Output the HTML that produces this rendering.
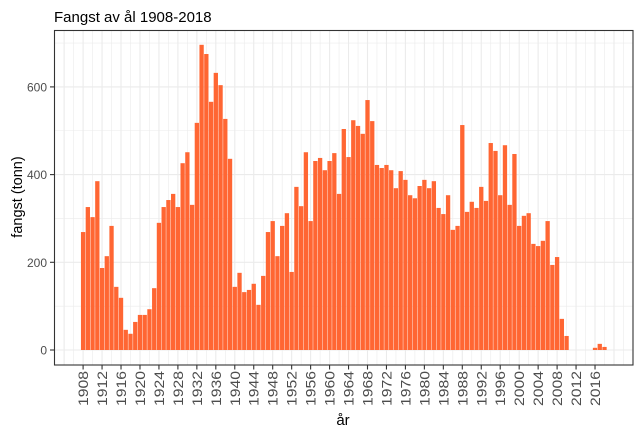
<!DOCTYPE html>
<html><head><meta charset="utf-8"><style>body{margin:0;background:#fff}svg{display:block}</style></head>
<body>
<svg id="s" width="641" height="435" xmlns="http://www.w3.org/2000/svg" font-family="Liberation Sans, Arial, sans-serif">
<rect width="641" height="435" fill="#fff"/>
<text x="54" y="22" font-size="15" fill="#000">Fangst av ål 1908-2018</text>
<g id="grid"></g>
<g id="bars"></g>
<rect x="54.5" y="30.5" width="578.5" height="334.5" fill="none" stroke="#333" stroke-width="1.1"/>
<g id="ax"></g>
<text transform="translate(22,197) rotate(-90)" text-anchor="middle" font-size="14.5" fill="#000">fangst (tonn)</text>
<text x="343" y="425" text-anchor="middle" font-size="15" fill="#000">år</text>
</svg>
<script>
var v=[269,326,303,385,187,214,283,144,119,46,37,64,80,80,93,141,290,326,342,356,326,426,451,331,518,696,675,566,632,604,527,436,144,176,132,137,151,103,
169,269,294,214,283,312,178,372,328,451,294,431,438,410,431,449,356,504,440,524,511,493,570,522,422,415,422,410,369,408,388,353,346,374,388,369,385,324,310,
353,274,283,513,315,338,324,372,340,472,454,353,467,331,447,283,306,312,242,237,249,294,194,212,71,32,0,0,0,0,0,5,14,7];
var NS="http://www.w3.org/2000/svg";
function el(p,t,a,txt){var e=document.createElementNS(NS,t);for(var k in a)e.setAttribute(k,a[k]);if(txt!==undefined)e.textContent=txt;p.appendChild(e);return e;}
var g=document.getElementById('grid'),b=document.getElementById('bars'),ax=document.getElementById('ax');
function X(yr){return 83.1+(yr-1908)*4.74;}
function Y(val){return 350-val*0.4385;}
for(var yr=1904;yr<=2024;yr+=2){var x=X(yr);if(x>55&&x<633)el(g,'line',{x1:x,x2:x,y1:31,y2:365,stroke:'#ebebeb','stroke-width':(yr%4==0)?1.1:0.6});}
for(var val=0;val<=700;val+=100){var y=Y(val);el(g,'line',{x1:55,x2:633,y1:y,y2:y,stroke:'#ebebeb','stroke-width':(val%200==0)?1.1:0.6});}
for(var i=0;i<v.length;i++){if(v[i]<=0)continue;var x=X(1908+i);el(b,'rect',{x:x-2.15,y:Y(v[i]),width:4.3,height:v[i]*0.4385,fill:'#FF6633'});}
for(var val=0;val<=600;val+=200){var y=Y(val);el(ax,'line',{x1:50,x2:54.5,y1:y,y2:y,stroke:'#333','stroke-width':1.1});el(ax,'text',{x:47,y:y+4.5,'text-anchor':'end','font-size':12,fill:'#4d4d4d'},String(val));}
for(var yr=1908;yr<=2016;yr+=4){var x=X(yr);el(ax,'line',{x1:x,x2:x,y1:365,y2:369.5,stroke:'#333','stroke-width':1.1});
el(ax,'text',{transform:'translate('+(x+5)+',371) rotate(-90)','text-anchor':'end','font-size':13.5,fill:'#4d4d4d',textLength:35,lengthAdjust:'spacingAndGlyphs'},String(yr));}
</script>
</body></html>
